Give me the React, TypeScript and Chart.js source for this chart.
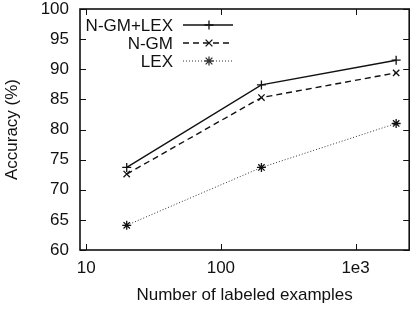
import React, { useEffect, useRef } from "react";
import { Chart, registerables } from "chart.js";

Chart.register(...registerables);

// Number of labeled examples (log scale)
const examples = [20, 200, 2000];
// Accuracy (%) per method
const ngmLex = [73.7, 87.4, 91.5];
const ngm = [72.6, 85.3, 89.4];
const lex = [64.1, 73.7, 81.0];

const seriesNames = ["N-GM+LEX", "N-GM", "LEX"];
const xTickValues = [10, 100, 1000];
const xTickLabels = ["10", "100", "1e3"];

const FONT = "'Liberation Sans', Arial, sans-serif";
const FS = 17;

function drawMarker(ctx: CanvasRenderingContext2D, style: string, x: number, y: number, r: number) {
  ctx.beginPath();
  if (style === "cross" || style === "star") {
    ctx.moveTo(x - r, y);
    ctx.lineTo(x + r, y);
    ctx.moveTo(x, y - r);
    ctx.lineTo(x, y + r);
  }
  if (style === "crossRot" || style === "star") {
    const d = r * 0.75;
    ctx.moveTo(x - d, y - d);
    ctx.lineTo(x + d, y + d);
    ctx.moveTo(x - d, y + d);
    ctx.lineTo(x + d, y - d);
  }
  ctx.stroke();
}

// Frame, inward tick marks on all four sides, and gnuplot-style key
const framePlugin = {
  id: "frameAndKey",
  afterDatasetsDraw(chart: any) {
    const { ctx, chartArea: a, scales } = chart;
    ctx.save();
    ctx.strokeStyle = "#111";
    ctx.setLineDash([]);
    ctx.lineWidth = 1;
    const tl = 6;
    scales.y.ticks.forEach((t: any) => {
      const py = Math.round(scales.y.getPixelForValue(t.value)) + 0.5;
      ctx.beginPath();
      ctx.moveTo(a.left, py);
      ctx.lineTo(a.left + tl, py);
      ctx.moveTo(a.right, py);
      ctx.lineTo(a.right - tl, py);
      ctx.stroke();
    });
    xTickValues.forEach((v) => {
      const px = Math.round(scales.x.getPixelForValue(v)) + 0.5;
      ctx.beginPath();
      ctx.moveTo(px, a.bottom);
      ctx.lineTo(px, a.bottom - tl);
      ctx.moveTo(px, a.top);
      ctx.lineTo(px, a.top + tl);
      ctx.stroke();
    });
    ctx.lineWidth = 1.6;
    ctx.strokeRect(a.left, a.top, a.right - a.left, a.bottom - a.top);

    // key
    ctx.font = `${FS}px ${FONT}`;
    ctx.fillStyle = "#111";
    ctx.textAlign = "right";
    ctx.textBaseline = "middle";
    chart.data.datasets.forEach((ds: any, i: number) => {
      const y = a.top + 16 + i * 18;
      ctx.fillText(ds.label, a.left + 93, y + 1);
      ctx.strokeStyle = ds.borderColor;
      ctx.lineWidth = ds.borderWidth;
      ctx.setLineDash(ds.borderDash || []);
      ctx.beginPath();
      ctx.moveTo(a.left + 103, y);
      ctx.lineTo(a.left + 153, y);
      ctx.stroke();
      ctx.setLineDash([]);
      ctx.lineWidth = ds.pointBorderWidth;
      drawMarker(ctx, ds.pointStyle, a.left + 129, y, ds.pointRadius);
    });
    ctx.restore();
  },
};

export default function App() {
  const canvasRef = useRef<HTMLCanvasElement | null>(null);

  useEffect(() => {
    document.body.style.margin = "0";
    const canvas = canvasRef.current;
    if (!canvas) return;
    const mk = (label: string, data: number[], style: string, dash: number[], color: string, width: number) => ({
      label,
      data: examples.map((x, i) => ({ x, y: data[i] })),
      borderColor: color,
      backgroundColor: color,
      borderWidth: width,
      borderDash: dash,
      pointStyle: style,
      pointRadius: 4.5,
      pointBorderWidth: 1.3,
      pointBorderColor: "#111",
      pointHoverRadius: 4.5,
      fill: false,
      tension: 0,
    });
    const chart = new Chart(canvas, {
      type: "line",
      data: {
        datasets: [
          mk(seriesNames[0], ngmLex, "cross", [], "#111", 1.4),
          mk(seriesNames[1], ngm, "crossRot", [6, 4], "#111", 1.4),
          mk(seriesNames[2], lex, "star", [1, 2], "#333", 1),
        ],
      },
      plugins: [framePlugin],
      options: {
        animation: false,
        responsive: false,
        layout: { padding: { top: 9, right: 5, left: 0, bottom: 0 } },
        plugins: { legend: { display: false }, tooltip: { enabled: false } },
        scales: {
          x: {
            type: "logarithmic",
            min: 9,
            max: 2500,
            grid: { display: false, drawTicks: false },
            border: { display: false },
            afterBuildTicks: (scale: any) => {
              scale.ticks = xTickValues.map((v) => ({ value: v }));
            },
            afterFit: (scale: any) => {
              scale.height = 60;
              scale.paddingLeft = 0;
              scale.paddingRight = 0;
            },
            ticks: {
              autoSkip: false,
              maxRotation: 0,
              padding: 8,
              color: "#111",
              font: { family: FONT, size: FS },
              callback: (v: any) => {
                const idx = xTickValues.indexOf(Number(v));
                return idx >= 0 ? xTickLabels[idx] : "";
              },
            },
            title: {
              display: true,
              text: "Number of labeled examples",
              color: "#111",
              font: { family: FONT, size: FS },
              padding: { top: 1, bottom: 4 },
            },
          },
          y: {
            min: 60,
            max: 100,
            grid: { display: false, drawTicks: false },
            border: { display: false },
            afterFit: (scale: any) => {
              scale.width = 80;
              scale.paddingTop = 0;
              scale.paddingBottom = 0;
            },
            ticks: {
              stepSize: 5,
              padding: 11,
              color: "#111",
              font: { family: FONT, size: FS },
            },
            title: {
              display: true,
              text: "Accuracy (%)",
              color: "#111",
              font: { family: FONT, size: FS },
              padding: { top: 2, bottom: 0 },
            },
          },
        },
      },
    } as any);
    return () => chart.destroy();
  }, []);

  return (
    <div style={{ width: 415, height: 310, background: "#fff" }}>
      <canvas ref={canvasRef} width={415} height={310} />
    </div>
  );
}
